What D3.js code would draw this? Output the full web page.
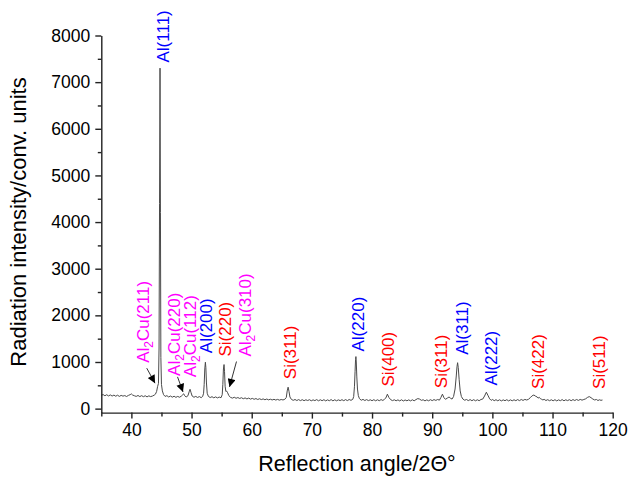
<!DOCTYPE html>
<html><head><meta charset="utf-8">
<script src="https://cdn.jsdelivr.net/npm/d3@7"></script>
<style>
html,body{margin:0;padding:0;background:#fff;}
text{font-family:"Liberation Sans",Arial,Helvetica,sans-serif;}
</style></head>
<body><svg id="chart" width="630" height="477"></svg>
<script>
// ---- data ----
const angles = [35.0,35.3,35.6,35.9,36.2,36.5,36.8,37.1,37.4,37.7,38.0,38.3,38.6,38.9,39.2,39.5,39.8,40.0,40.2,40.5,40.8,41.1,41.4,41.7,42.0,42.3,42.6,42.9,43.2,43.5,43.8,44.0,44.2,44.35,44.5,44.6,44.68,44.76,44.83,44.9,45.0,45.15,45.35,45.6,45.9,46.2,46.5,46.8,47.1,47.4,47.7,48.0,48.3,48.55,48.7,48.85,49.1,49.4,49.6,49.75,49.9,50.1,50.4,50.7,51.0,51.3,51.6,51.85,52.0,52.1,52.2,52.3,52.38,52.48,52.6,52.8,53.1,53.4,53.7,54.0,54.3,54.6,54.9,55.1,55.2,55.3,55.4,55.48,55.58,55.7,55.85,56.0,56.2,56.5,56.8,57.1,57.4,57.7,58.0,58.3,58.6,58.9,59.2,59.5,59.8,60.1,60.4,60.7,61.0,61.3,61.6,61.9,62.2,62.5,62.8,63.1,63.4,63.7,64.0,64.3,64.6,64.9,65.2,65.5,65.75,65.9,66.05,66.2,66.35,66.6,66.9,67.2,67.5,67.8,68.1,68.4,68.7,69.0,69.3,69.6,69.9,70.2,70.5,70.8,71.1,71.4,71.7,72.0,72.3,72.6,72.9,73.2,73.5,73.8,74.1,74.4,74.7,75.0,75.3,75.6,75.9,76.2,76.5,76.8,76.95,77.08,77.18,77.26,77.32,77.38,77.47,77.58,77.72,77.9,78.2,78.5,78.8,79.1,79.4,79.7,80.0,80.3,80.6,80.9,81.2,81.5,81.8,82.05,82.3,82.55,82.8,83.1,83.4,83.7,84.0,84.3,84.6,84.9,85.2,85.5,85.8,86.1,86.4,86.7,87.0,87.3,87.6,87.9,88.2,88.5,88.8,89.1,89.4,89.7,90.0,90.3,90.6,90.9,91.2,91.45,91.7,91.95,92.2,92.5,92.8,93.05,93.3,93.55,93.8,94.0,94.12,94.22,94.33,94.48,94.65,94.85,95.1,95.4,95.7,96.0,96.3,96.6,96.9,97.2,97.5,97.8,98.1,98.4,98.7,99.0,99.3,99.55,99.8,100.05,100.3,100.6,100.9,101.2,101.5,101.8,102.1,102.4,102.7,103.0,103.3,103.6,103.9,104.2,104.5,104.8,105.1,105.4,105.7,106.0,106.3,106.6,106.9,107.2,107.45,107.6,107.8,108.0,108.2,108.4,108.6,108.9,109.2,109.5,109.8,110.1,110.4,110.7,111.0,111.3,111.6,111.9,112.2,112.5,112.8,113.1,113.4,113.7,114.0,114.3,114.6,114.9,115.2,115.5,115.8,116.1,116.4,116.7,117.0,117.3,117.55,117.8,118.05,118.3,118.6,118.9,119.2,119.5,119.8,120.0];
const intensity = [285,302,276,298,272,294,270,290,266,288,262,284,268,280,260,283,300,316,292,276,262,282,258,278,256,276,252,274,258,270,290,310,370,470,540,1300,4400,7300,4200,1100,520,380,300,262,278,250,270,246,266,242,262,244,268,300,318,278,250,276,360,415,350,270,244,262,240,258,236,262,330,520,850,995,880,550,330,262,238,256,232,252,230,248,234,300,520,850,945,800,480,370,375,340,278,240,226,244,222,238,218,234,212,230,208,226,204,220,200,216,196,212,194,208,190,206,188,202,186,200,184,198,182,196,186,200,240,380,460,370,250,198,178,196,174,194,172,192,170,190,174,192,168,188,172,194,168,190,170,192,166,188,170,194,166,190,168,188,172,192,170,194,172,196,178,200,260,480,800,1050,1116,1000,680,420,280,215,180,198,174,194,172,190,170,192,168,190,170,194,175,200,230,310,240,192,172,190,168,188,166,190,164,186,168,188,166,190,168,194,215,205,178,190,166,188,168,192,172,194,176,196,182,240,310,235,200,225,250,222,205,260,420,700,900,985,880,620,380,260,205,180,196,172,194,170,192,168,190,170,196,205,270,352,275,210,178,196,170,192,168,190,166,188,170,192,166,188,168,190,170,194,172,196,176,198,185,200,235,275,292,265,250,226,242,212,200,186,200,174,192,170,190,168,192,166,188,170,194,168,190,172,192,170,194,174,196,176,198,182,196,210,240,258,235,205,186,196,174,190,178,185];
const yTicks = [0,1000,2000,3000,4000,5000,6000,7000,8000];
const xTicks = [40,50,60,70,80,90,100,110,120];
const labelText  = ["Al(111)","Al_2Cu(211)","Al_2Cu(220)","Al_2Cu(112)","Al(200)","Si(220)","Al_2Cu(310)","Si(311)","Al(220)","Si(400)","Si(311)","Al(311)","Al(222)","Si(422)","Si(511)"];
const labelAngle = [45.2,42.0,47.1,49.75,52.4,55.6,58.9,66.3,77.7,82.7,91.5,95.0,99.86,107.6,117.7];
const labelStart = [7421,982,702,675,1190,1117,1117,632,1225,473,438,1154,494,423,423];
const labelPhase = ["Al","Al2Cu","Al2Cu","Al2Cu","Al","Si","Al2Cu","Si","Al","Si","Si","Al","Al","Si","Si"];
const arrowFrom = [[42.55,868],[47.67,681],[57.47,1010]];
const arrowTo   = [[43.93,546],[48.58,359],[56.31,466]];

// ---- drawing ----
const phaseColor = {"Al":"#0000ff","Si":"#ff0000","Al2Cu":"#ff00ff"};
const svg = d3.select("#chart");
const x = d3.scaleLinear().domain([35,120]).range([101.3,612.7]);
const y = d3.scaleLinear().domain([-85,8000]).range([412.6,35.5]);

const data = angles.map((a,i)=>[a,intensity[i]]);
svg.append("path").datum(data)
  .attr("fill","none").attr("stroke","#4a4a4a").attr("stroke-width",1)
  .attr("d", d3.line().x(d=>x(d[0])).y(d=>y(d[1])));

// axes
const fs = 17.5;
const yAxis = svg.append("g").attr("transform","translate(101.3,0)")
  .call(d3.axisLeft(y).tickValues(yTicks).tickFormat(d3.format("d")).tickSize(6).tickSizeOuter(0).tickPadding(5));
const yMinor = svg.append("g").attr("transform","translate(101.3,0)")
  .call(d3.axisLeft(y).tickValues(yTicks.slice(0,-1).map(v=>v+500)).tickSize(3.5).tickFormat(""));
const xAxis = svg.append("g").attr("transform","translate(0,412.6)")
  .call(d3.axisBottom(x).tickValues(xTicks).tickFormat(d3.format("d")).tickSize(6).tickSizeOuter(0).tickPadding(5));
const xMinor = svg.append("g").attr("transform","translate(0,412.6)")
  .call(d3.axisBottom(x).tickValues(xTicks.map(v=>v-5)).tickSize(4).tickFormat(""));
[yMinor,xMinor].forEach(g=>g.select(".domain").remove());
[yAxis,xAxis,yMinor,xMinor].forEach(g=>{
  g.selectAll(".domain,.tick line").attr("stroke","#222").attr("stroke-width",1.4);
  g.selectAll("text").attr("font-size",fs).attr("fill","#000")
   .attr("font-family","Liberation Sans, Arial, sans-serif");
});

svg.append("text").attr("x",357).attr("y",471).attr("text-anchor","middle")
  .attr("font-size",21.5).attr("fill","#000").text("Reflection angle/2\u0398\u00b0");
svg.append("text").attr("transform","translate(26,222) rotate(-90)").attr("text-anchor","middle")
  .attr("font-size",22).attr("fill","#000").text("Radiation intensity/conv. units");

// peak labels
labelText.forEach((t,i)=>{
  const g = svg.append("text")
    .attr("transform",`translate(${x(labelAngle[i])},${y(labelStart[i])}) rotate(-90)`)
    .attr("dy","0.35em").attr("font-size",17).attr("fill",phaseColor[labelPhase[i]]);
  const parts = t.split("_");
  if (parts.length===1) { g.text(t); }
  else {
    g.append("tspan").text(parts[0]);
    g.append("tspan").attr("font-size",12).attr("dy",4).text(parts[1][0]);
    g.append("tspan").attr("dy",-4).text(parts[1].slice(1));
  }
});

// arrows
const defs = svg.append("defs");
defs.append("marker").attr("id","ah").attr("viewBox","0 0 10 10").attr("refX",10).attr("refY",5)
  .attr("markerWidth",9).attr("markerHeight",8).attr("markerUnits","userSpaceOnUse").attr("orient","auto")
  .append("path").attr("d","M0,0L10,5L0,10Z").attr("fill","#000");
arrowFrom.forEach((f,i)=>{
  svg.append("line").attr("x1",x(f[0])).attr("y1",y(f[1]))
    .attr("x2",x(arrowTo[i][0])).attr("y2",y(arrowTo[i][1]))
    .attr("stroke","#000").attr("stroke-width",0.8).attr("marker-end","url(#ah)");
});
</script></body></html>
